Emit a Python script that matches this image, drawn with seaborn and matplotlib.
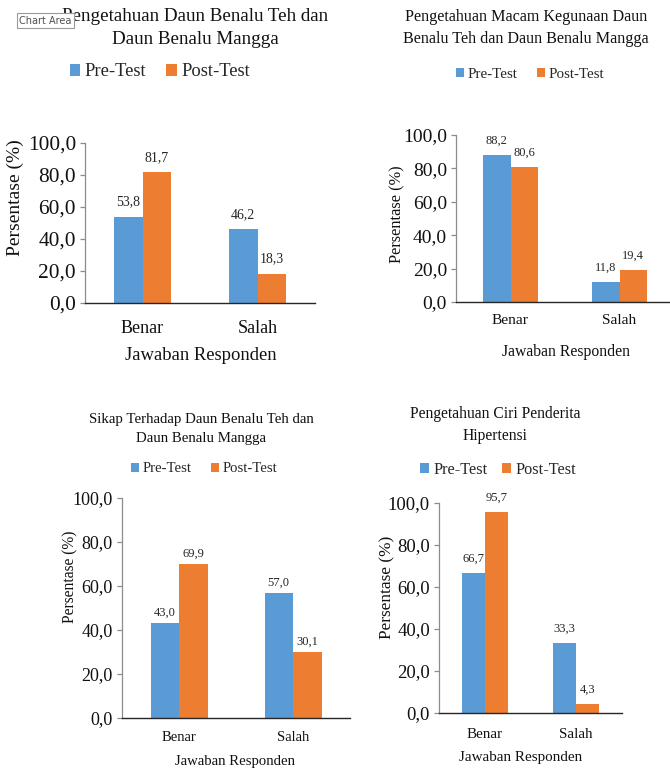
import pandas as pd
import matplotlib
matplotlib.use("Agg")
import matplotlib.pyplot as plt
import seaborn as sns
from matplotlib.ticker import FuncFormatter, MultipleLocator

# Data
categories = ["Benar", "Salah"]
series_names = ["Pre-Test", "Post-Test"]

pre_tahu_daun = [53.8, 46.2]
post_tahu_daun = [81.7, 18.3]

pre_kegunaan = [88.2, 11.8]
post_kegunaan = [80.6, 19.4]

pre_sikap = [43.0, 57.0]
post_sikap = [69.9, 30.1]

pre_hipertensi = [66.7, 33.3]
post_hipertensi = [95.7, 4.3]

titles = [
    "Pengetahuan Daun Benalu Teh dan\nDaun Benalu Mangga",
    "Pengetahuan Macam Kegunaan Daun\nBenalu Teh dan Daun Benalu Mangga",
    "Sikap Terhadap Daun Benalu Teh dan\nDaun Benalu Mangga",
    "Pengetahuan Ciri Penderita\nHipertensi",
]
x_label = "Jawaban Responden"
y_label = "Persentase (%)"

BLUE = "#5B9BD5"
ORANGE = "#ED7D31"

W, H = 670, 769

sns.set_theme(style="white")
plt.rcParams["font.family"] = ["Liberation Serif", "DejaVu Serif"]

# pixel layout of each panel (axes box, text anchors, font sizes)
panels = [
    dict(pre=pre_tahu_daun, post=post_tahu_daun, box=(85, 315, 143, 303),
         title_xy=(195, 28), title_fs=13.7, title_ls=1.42,
         leg_xy=(160, 72), leg_fs=13.4, leg_cs=1.07,
         xl_xy=(201, 355), ax_fs=13.4, yl_xy=(15, 198), yl_fs=14,
         tick_fs=15.4, cat_fs=13, cat_pad=12, val_fs=10, val_pad=6),
    dict(pre=pre_kegunaan, post=post_kegunaan, box=(456, 674, 135, 302),
         title_xy=(526, 28), title_fs=11.6, title_ls=1.42,
         leg_xy=(530, 74), leg_fs=10.8, leg_cs=1.3,
         xl_xy=(566, 352), ax_fs=11.3, yl_xy=(397, 214), yl_fs=11.8,
         tick_fs=14, cat_fs=11.1, cat_pad=9, val_fs=9, val_pad=6),
    dict(pre=pre_sikap, post=post_sikap, box=(122, 350, 498, 718),
         title_xy=(201, 429), title_fs=10.7, title_ls=1.58,
         leg_xy=(204, 469), leg_fs=10.6, leg_cs=1.3,
         xl_xy=(235, 761), ax_fs=10.6, yl_xy=(70, 577), yl_fs=11.2,
         tick_fs=13, cat_fs=10.5, cat_pad=9.4, val_fs=9, val_pad=3),
    dict(pre=pre_hipertensi, post=post_hipertensi, box=(439, 622, 503, 713),
         title_xy=(495, 425), title_fs=11.2, title_ls=1.53,
         leg_xy=(498, 470), leg_fs=11.7, leg_cs=0.92,
         xl_xy=(521, 757), ax_fs=10.9, yl_xy=(387, 587), yl_fs=12.4,
         tick_fs=13.5, cat_fs=10.8, cat_pad=10.6, val_fs=9, val_pad=6),
]

fig = plt.figure(figsize=(W / 100, H / 100), dpi=100)
fig.patch.set_facecolor("white")

comma = FuncFormatter(lambda v, pos: f"{v:.1f}".replace(".", ","))

for title, p in zip(titles, panels):
    left, right, top, bottom = p["box"]
    ax = fig.add_axes([left / W, 1 - bottom / H, (right - left) / W, (bottom - top) / H])

    def to_ax(px, py):
        return (px - left) / (right - left), (bottom - py) / (bottom - top)

    df = pd.DataFrame({
        "Jawaban": categories * 2,
        "Persentase": p["pre"] + p["post"],
        "Tes": [series_names[0]] * 2 + [series_names[1]] * 2,
    })
    sns.barplot(data=df, x="Jawaban", y="Persentase", hue="Tes", ax=ax,
                palette=[BLUE, ORANGE], width=0.5, gap=0, saturation=1,
                linewidth=0, errorbar=None)

    for cont in ax.containers:
        ax.bar_label(cont, labels=[f"{b.get_height():.1f}".replace(".", ",") for b in cont],
                     padding=p["val_pad"], fontsize=p["val_fs"], color="#262626")

    ax.set_xlim(-0.5, 1.5)
    ax.set_ylim(0, 100)
    ax.yaxis.set_major_locator(MultipleLocator(20))
    ax.yaxis.set_major_formatter(comma)

    for s in ["top", "right"]:
        ax.spines[s].set_visible(False)
    ax.spines["left"].set_color("#8c8c8c")
    ax.spines["left"].set_linewidth(0.9)
    ax.spines["bottom"].set_color("#262626")
    ax.spines["bottom"].set_linewidth(1.0)

    ax.tick_params(axis="y", left=True, length=3.5, width=0.9, color="#8c8c8c",
                   labelsize=p["tick_fs"], pad=3, labelcolor="#111111")
    ax.tick_params(axis="x", bottom=False, length=0, labelsize=p["cat_fs"],
                   pad=p["cat_pad"], labelcolor="#111111")

    ax.set_xlabel(x_label, fontsize=p["ax_fs"], color="#111111")
    ax.set_ylabel(y_label, fontsize=p["yl_fs"], color="#111111")
    ax.xaxis.set_label_coords(*to_ax(*p["xl_xy"]))
    ax.xaxis.label.set_va("center")
    ax.yaxis.set_label_coords(*to_ax(*p["yl_xy"]))
    ax.yaxis.label.set_va("center")

    tx, ty = to_ax(*p["title_xy"])
    ax.text(tx, ty, title, transform=ax.transAxes, ha="center", va="center",
            fontsize=p["title_fs"], linespacing=p["title_ls"], color="#111111")

    handles, labels = ax.get_legend_handles_labels()
    lx, ly = to_ax(*p["leg_xy"])
    ax.legend(handles, labels, loc="center", bbox_to_anchor=(lx, ly), ncol=2,
              frameon=False, fontsize=p["leg_fs"], handlelength=0.55,
              handleheight=0.55, handletextpad=0.25, columnspacing=p["leg_cs"],
              borderpad=0, borderaxespad=0)

# the "Chart Area" tooltip left on the screenshot
fig.text(19 / W, 1 - 20.5 / H, "Chart Area", ha="left", va="center", fontsize=7,
         family="DejaVu Sans", color="#505050", zorder=10,
         bbox=dict(boxstyle="square,pad=0.25", facecolor="white",
                   edgecolor="#9a9a9a", linewidth=0.8))

fig.savefig("out.png", dpi=100, facecolor="white")
